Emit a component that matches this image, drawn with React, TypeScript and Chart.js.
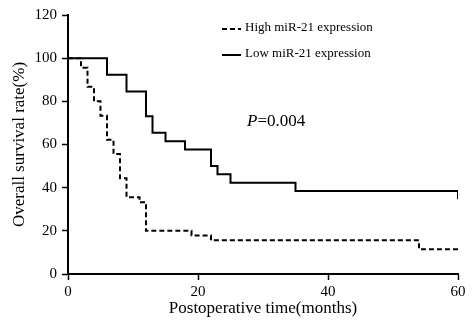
import React, { useEffect, useRef } from "react";
import { Chart, registerables } from "chart.js";

Chart.register(...registerables);

const seriesLabels = ["High miR-21 expression", "Low miR-21 expression"];
const highTimes = [0, 2, 3, 4, 5, 6, 7, 8, 9, 11, 12, 19, 22, 54, 60, 60];
const highSurvival = [100, 95.6, 86.7, 80, 73.3, 62.2, 55.6, 44.4, 35.6, 33.3, 20, 17.8, 15.6, 11.5, 11.5, 10.8];
const lowTimes = [0, 6, 9, 12, 13, 15, 18, 22, 23, 25, 35, 60, 60];
const lowSurvival = [100, 92.3, 84.6, 73.1, 65.4, 61.5, 57.7, 50, 46.2, 42.3, 38.5, 38.5, 34.6];
const xTicks = [0, 20, 40, 60];
const yTicks = [0, 20, 40, 60, 80, 100, 120];
const pValueText = "=0.004";
const xTitle = "Postoperative time(months)";
const yTitle = "Overall survival rate(%)";

const FONT = "'Liberation Serif', 'Times New Roman', serif";

const overlayPlugin = {
  id: "kmOverlay",
  afterDraw(chart: any) {
    const ctx = chart.ctx;
    ctx.save();
    ctx.strokeStyle = "#000";
    ctx.fillStyle = "#000";
    ctx.lineWidth = 2;
    const rows = [29, 55];
    chart.data.datasets.forEach((ds: any, i: number) => {
      const y = rows[i];
      ctx.beginPath();
      ctx.setLineDash(ds.borderDash || []);
      ctx.moveTo(222, y);
      ctx.lineTo(241, y);
      ctx.stroke();
      ctx.setLineDash([]);
      ctx.font = `13px ${FONT}`;
      ctx.textBaseline = "middle";
      ctx.textAlign = "left";
      ctx.fillText(ds.label, 245, y - 1);
    });
    ctx.font = `italic 17px ${FONT}`;
    ctx.textBaseline = "middle";
    ctx.fillText("P", 247, 122);
    const pw = ctx.measureText("P").width;
    ctx.font = `17px ${FONT}`;
    ctx.fillText(pValueText, 247 + pw, 122);
    ctx.restore();
  },
};

export default function App() {
  const ref = useRef<HTMLCanvasElement | null>(null);
  useEffect(() => {
    if (!ref.current) return;
    const chart = new Chart(ref.current, {
      type: "line",
      data: {
        datasets: [
          {
            label: seriesLabels[0],
            data: highTimes.map((t, i) => ({ x: t, y: highSurvival[i] })),
            borderColor: "#000",
            borderWidth: 2,
            borderDash: [5, 3],
            stepped: "before",
            pointRadius: 0,
            fill: false,
          },
          {
            label: seriesLabels[1],
            data: lowTimes.map((t, i) => ({ x: t, y: lowSurvival[i] })),
            borderColor: "#000",
            borderWidth: 2,
            stepped: "before",
            pointRadius: 0,
            fill: false,
          },
        ],
      },
      options: {
        responsive: false,
        animation: false,
        layout: { padding: { top: 15, right: 15, left: 0, bottom: 0 } },
        plugins: { legend: { display: false }, tooltip: { enabled: false } },
        scales: {
          x: {
            type: "linear",
            min: 0,
            max: 60,
            afterBuildTicks: (s: any) => {
              s.ticks = xTicks.map((v) => ({ value: v }));
            },
            afterFit: (s: any) => {
              s.height = 49;
            },
            ticks: { color: "#000", font: { family: FONT, size: 15 }, padding: 3, maxRotation: 0 },
            grid: { drawOnChartArea: false, drawTicks: true, tickLength: 6, tickColor: "#000", tickWidth: 1.5 },
            border: { display: true, color: "#000", width: 2 },
            title: {
              display: true,
              text: xTitle,
              color: "#000",
              font: { family: FONT, size: 17 },
              padding: { top: 0, bottom: 4 },
            },
          },
          y: {
            type: "linear",
            min: 0,
            max: 120,
            afterBuildTicks: (s: any) => {
              s.ticks = yTicks.map((v) => ({ value: v }));
            },
            afterFit: (s: any) => {
              s.width = 68;
            },
            ticks: { color: "#000", font: { family: FONT, size: 15 }, padding: 5 },
            grid: { drawOnChartArea: false, drawTicks: true, tickLength: 6, tickColor: "#000", tickWidth: 1.5 },
            border: { display: true, color: "#000", width: 2 },
            title: {
              display: true,
              text: yTitle,
              color: "#000",
              font: { family: FONT, size: 17 },
              padding: { top: 9, bottom: 0 },
            },
          },
        },
      },
      plugins: [overlayPlugin],
    } as any);
    return () => chart.destroy();
  }, []);
  return (
    <div style={{ position: "absolute", left: 0, top: 0, width: 473, height: 323, background: "#fff" }}>
      <canvas ref={ref} width={473} height={323} style={{ display: "block" }} />
    </div>
  );
}
